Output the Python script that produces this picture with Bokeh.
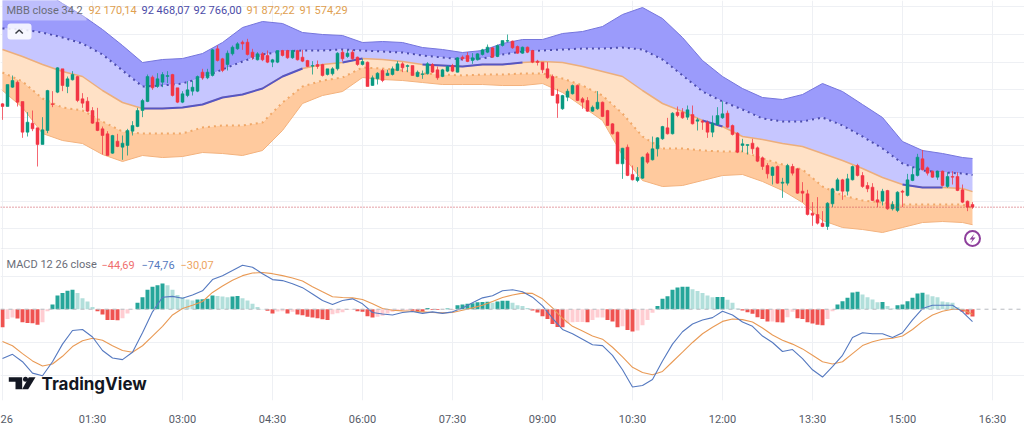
from bokeh.plotting import figure
from bokeh.layouts import column
from bokeh.models import ColumnDataSource, FixedTicker, Grid, Span, Label, BoxAnnotation
from bokeh.embed import file_html
from bokeh.resources import INLINE

opens = [93750,93702,94050,94140,93792,93240,93402,93318,93018,93270,93750,93960,94380,94062,94182,94242,93840,93798,93630,93420,
93300,93210,92862,93078,92970,93000,93258,93342,93630,93792,94230,94062,94140,94242,94278,94038,93780,93900,93978,93978,
94320,94218,94260,94740,94560,94458,94650,94740,94860,94860,94680,94542,94650,94620,94500,94500,94710,94710,94578,94710,
94590,94530,94428,94458,94458,94278,94290,94380,94680,94602,94680,94590,94458,94500,94080,94200,94350,94260,94278,94350,
94470,94422,94440,94242,94278,94290,94458,94362,94242,94338,94440,94320,94590,94620,94530,94542,94638,94680,94758,94602,
94800,94878,94878,94782,94662,94770,94710,94518,94500,94380,94242,93918,93660,93870,93930,94080,93840,93810,93618,93660,
93780,93630,93390,93240,92670,92970,92478,92370,92412,92850,92742,92940,93120,93318,93210,93600,93600,93510,93558,93438,
93438,93420,93240,93378,93498,93582,93360,93222,93000,93000,93042,92958,92778,92640,92460,92622,92322,92322,92622,92580,
92178,92130,91782,91758,91602,91542,91950,92190,92382,92178,92382,92640,92460,92280,92250,92022,91998,92190,91860,91830,
92178,92100,92370,92460,92760,92598,92538,92430,92538,92262,92442,92442,92202,91998,91938]
highs = [93762,94098,94260,94170,93792,93600,93630,93318,93510,94002,93978,94410,94380,94242,94338,94254,93942,93870,93690,93678,
93342,93258,93192,93210,93180,93300,93438,93678,93840,94278,94260,94302,94320,94338,94290,94038,93978,94158,94170,94260,
94380,94380,94740,94800,94578,94710,94800,94860,94890,94920,94740,94680,94680,94710,94560,94710,94722,94722,94722,94722,
94722,94542,94518,94530,94470,94380,94410,94680,94722,94722,94722,94602,94560,94512,94260,94320,94380,94362,94422,94518,
94500,94458,94440,94350,94350,94500,94482,94422,94380,94440,94470,94590,94620,94680,94662,94662,94740,94818,94770,94818,
94890,94998,94890,94800,94782,94782,94722,94542,94500,94500,94278,94020,93912,94020,94098,94098,93870,93870,93720,93978,
93792,93642,93402,93252,92958,93018,92640,92610,92802,92880,93162,93150,93354,93498,93600,93702,93672,93720,93720,93498,
93462,93450,93540,93690,93798,93630,93378,93240,93120,93018,93120,92982,92802,92682,92622,92640,92418,92670,92670,92598,
92340,92202,91980,92070,91818,91980,92238,92418,92400,92490,92640,92670,92520,92340,92322,92190,92220,92202,91998,92178,
92202,92490,92610,92850,92922,92622,92550,92550,92550,92520,92538,92520,92298,92010,91980]
lows = [93462,93702,94038,93702,93138,93162,93258,92622,93018,93222,93690,93942,93978,93942,94170,93780,93678,93600,93390,93258,
92838,92820,92850,92970,92742,92820,93180,93330,93510,93780,94002,94038,94050,94122,93882,93762,93762,93870,93900,93960,
94182,94194,94242,94512,94320,94350,94620,94722,94722,94620,94542,94530,94518,94482,94410,94482,94602,94560,94560,94530,
94500,94410,94278,94380,94242,94260,94260,94350,94518,94578,94542,94434,94440,94062,94074,94098,94140,94260,94260,94338,
94320,94320,94254,94230,94200,94278,94302,94182,94230,94320,94320,94314,94530,94500,94470,94530,94620,94662,94578,94590,
94782,94860,94740,94650,94650,94662,94482,94440,94302,94200,93900,93498,93642,93798,93918,93798,93660,93606,93606,93642,
93510,93354,93198,92670,92400,92448,92370,92340,92400,92670,92730,92802,93102,93198,93198,93510,93480,93462,93378,93270,
93282,93138,93150,93360,93480,93318,93180,92862,92880,92838,92850,92700,92562,92406,92298,92310,92058,92280,92460,92130,
91980,91740,91554,91578,91530,91482,91890,92178,92022,92100,92370,92442,92238,92160,91998,91890,91920,91842,91830,91800,
91890,92082,92358,92442,92550,92460,92418,92382,92262,92238,92298,92178,91962,91818,91860]
closes = [93702,94098,94170,93780,93240,93420,93300,93018,93282,93990,93738,94398,94080,94200,94278,93810,93762,93618,93402,93270,
93180,92820,93180,92982,93042,93270,93360,93630,93810,94242,94038,94200,94278,94260,93900,93780,93930,94002,94050,94242,
94218,94320,94722,94530,94350,94662,94770,94830,94830,94638,94590,94650,94542,94500,94542,94710,94620,94578,94710,94542,
94518,94422,94440,94422,94260,94380,94380,94662,94560,94662,94560,94458,94512,94062,94218,94302,94170,94302,94380,94470,
94398,94440,94260,94320,94290,94470,94320,94218,94362,94422,94338,94578,94560,94512,94578,94650,94722,94770,94590,94800,
94890,94890,94758,94662,94770,94680,94500,94494,94362,94218,93900,93762,93900,93978,94080,93810,93780,93618,93690,93780,
93522,93360,93210,92670,92952,92460,92382,92430,92790,92700,92940,93138,93342,93210,93582,93540,93498,93642,93390,93462,
93420,93240,93402,93540,93570,93330,93198,92880,93030,93018,92940,92718,92622,92490,92610,92322,92340,92640,92502,92142,
92142,91758,91746,91602,91542,91962,92220,92382,92178,92400,92622,92460,92262,92220,92010,91980,92178,91860,91938,92160,
92160,92382,92478,92790,92562,92502,92430,92538,92280,92442,92430,92190,91980,91890,91890]

band_t = [0,20,40,60,80,100,120,140,160,180,200,220,240,260,280,300,320,340,360,380,400,420,440,460,480,
500,520,540,560,580,600,620,640,660,680,700,720,740,760,780,800,820,840,860,880,900,920,940,960,970]
upper2 = [96150,96006,95790,95556,95340,95088,94800,94494,94548,94566,94656,94854,95124,95232,95196,95034,94998,94980,94854,94872,
94854,94764,94728,94674,94710,94836,94908,94908,95016,95052,95142,95358,95484,95286,94944,94530,94242,94026,93864,93828,
93918,94116,93972,93738,93504,93072,92910,92856,92784,92766.00]
upper1 = [95106,95088,95034,94944,94836,94638,94350,94062,94080,94116,94224,94368,94512,94638,94692,94710,94710,94728,94710,94692,
94674,94620,94584,94548,94566,94638,94692,94710,94728,94746,94746,94764,94728,94548,94260,93972,93792,93648,93486,93432,
93432,93504,93360,93162,92946,92676,92550,92514,92496,92468.07]
basis = [94728,94602,94458,94332,94242,93990,93774,93666,93666,93684,93738,93864,93918,94026,94242,94386,94458,94494,94566,94548,
94512,94458,94440,94422,94458,94458,94494,94512,94494,94422,94332,94242,93990,93756,93612,93450,93342,93162,93108,93036,
92982,92856,92730,92586,92424,92298,92244,92244,92226,92170.14]
lower1 = [94314,94152,93846,93684,93630,93432,93252,93216,93216,93216,93324,93360,93360,93414,93774,94062,94170,94224,94404,94386,
94350,94296,94278,94260,94278,94278,94296,94296,94206,94080,93900,93576,93162,92946,92946,92910,92892,92892,92766,92658,
92568,92262,92100,92010,91974,91938,91938,91938,91938,91872.22]
lower2 = [93990,93684,93216,93090,93036,92838,92712,92820,92784,92802,92874,92856,92820,92910,93270,93756,93900,93972,94224,94188,
94170,94134,94098,94098,94098,94080,94080,94116,93954,93702,93450,92820,92370,92262,92280,92370,92460,92478,92352,92190,
91974,91650,91524,91488,91434,91524,91614,91632,91614,91574.29]
# knot ranges in which the basis is drawn blue
basis_up_spans = [(140,300),(340,360),(420,520),(700,720),(900,940)]

hist = [-110,-59,-50,-56,-79,-83,-85,-95,-79,-12,28,83,99,112,118,99,67,47,14,-12,
-32,-65,-66,-67,-55,-26,-2,39,73,118,136,146,156,146,118,87,73,59,53,59,
60,63,83,81,77,73,77,81,67,53,33,14,1,-10,-26,-14,-12,-26,-15,-32,
-36,-45,-51,-55,-61,-65,-30,-24,-18,-4,-3,-12,-16,-43,-51,-45,-40,-26,-15,-10,
-9,-6,-10,-14,-15,7,-4,-5,-2,5,-1,24,28,33,37,43,44,45,39,47,
51,52,39,24,20,8,-8,-20,-43,-59,-90,-108,-109,-85,-79,-78,-77,-79,-65,-51,
-50,-65,-75,-110,-104,-126,-136,-130,-98,-65,-22,20,63,79,118,132,136,137,122,110,
98,83,73,74,75,57,39,4,-8,-18,-28,-49,-59,-75,-74,-79,-80,-49,-16,-55,
-60,-79,-87,-95,-97,-60,-12,28,49,69,102,106,89,73,59,43,44,20,4,24,
28,49,69,96,100,89,79,73,47,43,39,12,-16,-32,-44.69]

macd_t = list(range(0, 971, 10))
macd_line = [-300,-274,-319,-388,-404,-319,-212,-129,-123,-169,-251,-296,-306,-261,-143,-16,73,78,67,86,
112,180,204,235,267,255,216,180,174,155,131,92,53,29,
53,63,33,-20,-29,-35,-20,-14,-25,-16,-25,-16,8,39,69,82,112,118,106,73,20,-55,-123,-149,-182,-216,
-221,-280,-368,-472,-463,-427,-314,-212,
-137,-90,-65,-51,-12,-35,-78,-104,-163,-202,-257,-245,-300,-368,-412,-349,-280,-172,-143,-149,-149,-172,
-143,-65,4,24,24,24,-16,-74.76]
signal_line = [-196,-222,-270,-314,-345,-333,-286,-227,-192,-176,-188,-222,-251,-261,-222,-163,-104,-35,4,24,
47,102,141,176,204,220,223,216,204,190,171,137,106,76,
71,69,59,33,4,-6,-10,-12,-16,-20,-22,-20,-6,8,24,47,71,86,98,96,63,8,-55,-104,-133,-163,
-182,-231,-290,-353,-384,-398,-378,-319,
-261,-202,-149,-110,-74,-59,-63,-78,-114,-157,-188,-212,-241,-280,-319,-333,-319,-270,-221,-198,-182,-176,
-163,-123,-74,-35,-12,0,-2,-30.07]

tick_minutes = [0,90,180,270,360,450,540,630,720,810,900,990]
tick_labels = ["26","01:30","03:00","04:30","06:00","07:30","09:00","10:30","12:00","13:30","15:00","16:30"]
price_grid = [91500,92000,92500,93000,93500,94000,94500,95000,95500]
macd_grid = [-400,-200,200]

FONT = "Roboto"
GRID = "#eef0f4"
UP, DOWN = "#089981", "#f23645"

# page pixel -> data helpers for the decorations
tx = lambda x: x - 2
py1 = lambda y: 95610 - 18 * y
py2 = lambda y: (310.7 - y) * 5.88

# ---------- price pane ----------
p1 = figure(width=1024, height=249, x_range=(-2, 1022), y_range=(py1(249), py1(0)),
            x_axis_location=None, y_axis_location=None, toolbar_location=None,
            output_backend="svg", min_border=0, outline_line_color=None, background_fill_color="white")
p1.grid.visible = False
p1.add_layout(Grid(dimension=0, ticker=FixedTicker(ticks=tick_minutes), grid_line_color=GRID))
p1.add_layout(Grid(dimension=1, ticker=FixedTicker(ticks=price_grid), grid_line_color=GRID))

p1.varea(band_t, upper2, upper1, fill_color="#9b9bfb")
p1.varea(band_t, upper1, basis, fill_color="#c6c6ff")
p1.varea(band_t, basis, lower1, fill_color="#ffe1c6")
p1.varea(band_t, lower1, lower2, fill_color="#ffca9e")
p1.line(band_t, upper2, line_color="#7676dc", line_width=1)
p1.line(band_t, lower2, line_color="#f3b27e", line_width=1)
p1.line(band_t, upper1, line_color="#4c4cae", line_width=2, line_dash="2 4")
p1.line(band_t, lower1, line_color="#f0a868", line_width=2, line_dash="2 4")
p1.line(band_t, basis, line_color="#ecae7c", line_width=1.5)
for a, b in basis_up_spans:
    idx = [i for i, t in enumerate(band_t) if a <= t <= b]
    p1.line([band_t[i] for i in idx], [basis[i] for i in idx], line_color="#5656c4", line_width=2)

candle_t = [5 * k for k in range(len(opens))]
cols = [UP if c >= o else DOWN for o, c in zip(opens, closes)]
src = ColumnDataSource(dict(t=candle_t, o=opens, h=highs, l=lows, c=closes, col=cols))
p1.segment("t", "h", "t", "l", source=src, line_color="col", line_width=1, line_alpha=0.75)
p1.vbar("t", width=3, top="o", bottom="c", source=src, fill_color="col", line_color="col", line_width=0.5)

p1.add_layout(Span(location=closes[-1], dimension="width", line_color="#c8424c", line_width=1, line_dash="1 2"))
p1.add_layout(Span(location=py1(248.5), dimension="width", line_color="#dfe1e6", line_width=1))

# legend background and collapse button
p1.add_layout(BoxAnnotation(left=tx(0), right=tx(86), bottom=py1(20), top=py1(0),
                            fill_color="white", fill_alpha=0.35, line_color=None))
p1.add_layout(BoxAnnotation(left=tx(7), right=tx(31), bottom=py1(39), top=py1(23),
                            fill_color="white", fill_alpha=0.85, line_color=None, border_radius=3))
p1.line([tx(15), tx(18.7), tx(22.3)], [py1(33), py1(29.5), py1(33)], line_color="#3a3d45", line_width=1.5, level="overlay")

def legend_text(fig, yfun, y, items):
    for x, txt, col in items:
        fig.add_layout(Label(x=tx(x), y=yfun(y), text=txt, text_color=col, text_font=FONT,
                             text_font_size="11px", text_baseline="middle"))

legend_text(p1, py1, 10, [
    (6, "MBB close 34 2", "#6a6d78"), (88, "92 170,14", "#e0a050"), (141, "92 468,07", "#4c4ca8"),
    (193, "92 766,00", "#4c4ca8"), (246, "91 872,22", "#e0a050"), (299, "91 574,29", "#e0a050")])

# lightning badge
p1.scatter([tx(972)], [py1(238)], size=15, fill_color="white", line_color="#8e3f9c", line_width=2)
p1.patch([tx(972 + d) for d in (2, -3, 0, -2, 3, 0)], [py1(238 + d) for d in (-5, 1, 1, 5, -1, -1)],
         fill_color="#8e3f9c", line_color=None)

# ---------- MACD pane ----------
p2 = figure(width=1024, height=179, x_range=p1.x_range, y_range=(py2(405), py2(249)),
            y_axis_location=None, toolbar_location=None, output_backend="svg",
            min_border=0, min_border_bottom=23, outline_line_color=None, background_fill_color="white")
p2.grid.visible = False
p2.add_layout(Grid(dimension=0, ticker=FixedTicker(ticks=tick_minutes), grid_line_color=GRID))
p2.add_layout(Grid(dimension=1, ticker=FixedTicker(ticks=macd_grid), grid_line_color=GRID))
ax = p2.xaxis[0]
ax.ticker = FixedTicker(ticks=tick_minutes)
ax.major_label_overrides = dict(zip(tick_minutes, tick_labels))
ax.axis_line_color = None
ax.major_tick_line_color = None
ax.minor_tick_line_color = None
ax.major_label_standoff = 6
ax.major_label_text_font = FONT
ax.major_label_text_font_size = "11px"
ax.major_label_text_color = "#555a66"

hcol = []
for i, h in enumerate(hist):
    prev = hist[i - 1] if i else h
    if h >= 0:
        hcol.append("#26a69a" if h >= prev else "#b2dfdb")
    else:
        hcol.append("#ef5350" if h <= prev else "#ffcdd2")
p2.add_layout(Span(location=0, dimension="width", line_color="#b8bac0", line_width=1, line_dash="4 4"))
p2.vbar(candle_t, width=4, top=hist, bottom=0, fill_color=hcol, line_color=None)
p2.line(macd_t, signal_line, line_color="#e99a55", line_width=1.1)
p2.line(macd_t, macd_line, line_color="#5579c0", line_width=1.1)

legend_text(p2, py2, 264.5, [
    (6, "MACD 12 26 close", "#6a6d78"), (101, "−44,69", "#ef6f6f"),
    (141, "−74,76", "#5579c0"), (180, "−30,07", "#eda55f")])

# TradingView mark
p2.patch([tx(v) for v in (8.3, 21.7, 21.7, 15, 15, 8.3)], [py2(v) for v in (381, 381, 393.5, 393.5, 385.5, 385.5)],
         fill_color="#131722", line_color=None)
p2.patch([tx(v) for v in (28.3, 35, 27.7, 21.7)], [py2(v) for v in (381, 381, 393.5, 393.5)],
         fill_color="#131722", line_color=None)
p2.scatter([tx(25)], [py2(383)], size=5, fill_color="#131722", line_color=None)
p2.add_layout(Label(x=tx(41), y=py2(388), text="TradingView", text_color="#131722", text_font="Inter",
                    text_font_size="17px", text_font_style="bold", text_baseline="middle"))

layout = column(p1, p2, spacing=0)
open("out.html", "w").write(file_html(layout, INLINE))
